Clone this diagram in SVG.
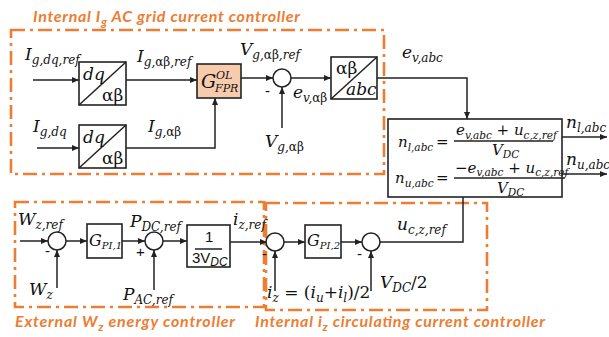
<svg xmlns="http://www.w3.org/2000/svg" width="609" height="337" viewBox="0 0 609 337">
<defs>
<marker id="ah" markerUnits="userSpaceOnUse" markerWidth="8" markerHeight="6" refX="7" refY="3" orient="auto">
<path d="M0,0 L7,3 L0,6 Z" fill="#222"/>
</marker>
<style>
.ln{fill:none;stroke:#222;stroke-width:1.5}
.ar{fill:none;stroke:#222;stroke-width:1.5;marker-end:url(#ah)}
.blk{fill:#fff;stroke:#222;stroke-width:1.6}
.gfb{fill:#F8CBAD;stroke:#222;stroke-width:1.6}
.sum{fill:#fff;stroke:#222;stroke-width:1.5}
.ob{fill:none;stroke:#ED7D31;stroke-width:2.6;stroke-dasharray:14 5 3 5}
.tt{font-family:Lato,"Open Sans",sans-serif;font-weight:bold;font-style:italic;font-size:16px;fill:#ED7D31}
.ts{font-size:12px}
.m{font-family:"DejaVu Serif",serif;font-style:italic;font-size:17px;fill:#111}
.mb{font-family:"DejaVu Serif",serif;font-style:italic;font-size:15px;fill:#111}
.s{font-size:12px}
.sb{font-size:10.5px}
.up{font-style:normal}
.sg{font-family:"Liberation Sans",sans-serif;font-size:15px;fill:#111}
</style>
</defs>

<g id="frames">
<rect id="frame-ig" class="ob" x="11" y="30" width="373" height="144"/>
<rect id="frame-wz" class="ob" x="15" y="202" width="249" height="105"/>
<rect id="frame-iz" class="ob" x="266" y="203" width="221" height="107"/>
<text class="tt" x="33" y="22" textLength="267">Internal I<tspan class="ts" dy="4">g</tspan><tspan dy="-4"> AC grid current controller</tspan></text>
<text class="tt" x="15" y="327" textLength="220">External W<tspan class="ts" dy="4">z</tspan><tspan dy="-4"> energy controller</tspan></text>
<text class="tt" x="255" y="327" textLength="290">Internal i<tspan class="ts" dy="4">z</tspan><tspan dy="-4"> circulating current controller</tspan></text>
</g>

<g id="connectors">
<line class="ar" x1="33" y1="80" x2="79" y2="80"/>
<line class="ar" x1="37" y1="148" x2="79" y2="148"/>
<line class="ar" x1="126" y1="80" x2="197" y2="80"/>
<polyline class="ar" points="126,148 215,148 215,98"/>
<line class="ar" x1="241" y1="78" x2="273" y2="78"/>
<line class="ar" x1="282" y1="128" x2="282" y2="87"/>
<line class="ar" x1="291" y1="78" x2="331" y2="78"/>
<polyline class="ar" points="377,78 467,78 467,119"/>
<line class="ar" x1="562" y1="137" x2="607" y2="137"/>
<line class="ar" x1="562" y1="174" x2="607" y2="174"/>
<line class="ar" x1="20" y1="241" x2="48" y2="241"/>
<line class="ar" x1="57" y1="288" x2="57" y2="250"/>
<line class="ar" x1="66" y1="241" x2="87" y2="241"/>
<line class="ar" x1="122" y1="241" x2="145" y2="241"/>
<line class="ar" x1="154" y1="290" x2="154" y2="250"/>
<line class="ar" x1="163" y1="241" x2="187" y2="241"/>
<line class="ar" x1="230" y1="242" x2="267" y2="242"/>
<line class="ar" x1="275" y1="291" x2="275" y2="251"/>
<line class="ar" x1="284" y1="242" x2="305" y2="242"/>
<line class="ar" x1="341" y1="242" x2="362" y2="242"/>
<line class="ar" x1="371" y1="291" x2="371" y2="251"/>
<polyline class="ln" points="380,242 463,242 463,197"/>
</g>

<g id="dq-ab-ref">
<rect class="blk" x="79" y="62" width="47" height="43"/>
<line class="ln" x1="79" y1="105" x2="126" y2="62"/>
<text class="m" x="83" y="80">dq</text>
<text class="m up" x="102" y="101">αβ</text>
</g>
<g id="dq-ab-meas">
<rect class="blk" x="79" y="125" width="47" height="43"/>
<line class="ln" x1="79" y1="168" x2="126" y2="125"/>
<text class="m" x="83" y="143">dq</text>
<text class="m up" x="102" y="164">αβ</text>
</g>
<g id="g-fpr">
<rect class="gfb" x="197" y="64" width="44" height="34"/>
<text class="m" x="201" y="88" style="font-size:19px">G</text>
<text class="m" x="216" y="79" style="font-size:11px">OL</text>
<text class="m" x="215" y="92" style="font-size:11px">FPR</text>
</g>
<g id="sum-v">
<circle class="sum" cx="282" cy="78" r="9"/>
<text class="sg" x="265" y="96">-</text>
</g>
<g id="ab-abc">
<rect class="blk" x="331" y="57" width="46" height="42"/>
<line class="ln" x1="331" y1="99" x2="377" y2="57"/>
<text class="m up" x="336" y="74">αβ</text>
<text class="m" x="346" y="95">abc</text>
</g>
<g id="modulation">
<rect class="blk" x="388" y="119" width="174" height="78"/>
<text class="mb" x="398" y="147">n<tspan class="sb" dy="4">l,abc</tspan></text>
<text class="mb up" x="436" y="147">=</text>
<text class="mb" x="456" y="135">e<tspan class="sb" dy="4">v,abc</tspan><tspan class="up" dy="-4"> + </tspan>u<tspan class="sb" dy="4">c,z,ref</tspan></text>
<line class="ln" x1="454" y1="141" x2="553" y2="141" stroke-width="1.2"/>
<text class="mb" x="492" y="155">V<tspan class="sb" dy="3">DC</tspan></text>
<text class="mb" x="395" y="183">n<tspan class="sb" dy="4">u,abc</tspan></text>
<text class="mb up" x="436" y="183">=</text>
<text class="mb" x="455" y="173"><tspan class="up">−</tspan>e<tspan class="sb" dy="3">v,abc</tspan><tspan class="up" dy="-3"> + </tspan>u<tspan class="sb" dy="3">c,z,ref</tspan></text>
<line class="ln" x1="454" y1="178" x2="565" y2="178" stroke-width="1.2"/>
<text class="mb" x="497" y="193">V<tspan class="sb" dy="3">DC</tspan></text>
</g>

<g id="sum-w">
<circle class="sum" cx="57" cy="241" r="9"/>
<text class="sg" x="45" y="256">-</text>
</g>
<g id="g-pi1">
<rect class="blk" x="87" y="224" width="35" height="34"/>
<text class="m" x="89" y="246" style="font-size:16px">G<tspan style="font-size:10px" dy="3">PI,1</tspan></text>
</g>
<g id="sum-p">
<circle class="sum" cx="154" cy="241" r="9"/>
<text class="sg" x="136" y="257">+</text>
</g>
<g id="inv-3vdc">
<rect class="blk" x="187" y="225" width="43" height="42"/>
<text class="sg" x="205" y="242">1</text>
<line class="ln" x1="195" y1="249" x2="222" y2="249" stroke-width="1.1"/>
<text class="sg" x="192" y="263">3V<tspan class="s" font-style="italic" dy="3">DC</tspan></text>
</g>
<g id="sum-iz">
<circle class="sum" cx="275" cy="242" r="9"/>
<text class="sg" x="262" y="259">-</text>
</g>
<g id="g-pi2">
<rect class="blk" x="305" y="225" width="36" height="33"/>
<text class="m" x="307" y="246" style="font-size:16px">G<tspan style="font-size:10px" dy="3">PI,2</tspan></text>
</g>
<g id="sum-u">
<circle class="sum" cx="371" cy="242" r="9"/>
<text class="sg" x="357" y="259">-</text>
</g>

<g id="labels">
<text class="m" x="25" y="60">I<tspan class="s" dy="4">g,dq,ref</tspan></text>
<text class="m" x="137" y="62">I<tspan class="s" dy="4">g,<tspan class="up">αβ</tspan>,ref</tspan></text>
<text class="m" x="240" y="55">V<tspan class="s" dy="4">g,<tspan class="up">αβ</tspan>,ref</tspan></text>
<text class="m" x="293" y="98">e<tspan class="s" dy="4">v,<tspan class="up">αβ</tspan></tspan></text>
<text class="m" x="265" y="147">V<tspan class="s" dy="4">g,<tspan class="up">αβ</tspan></tspan></text>
<text class="m" x="33" y="132">I<tspan class="s" dy="4">g,dq</tspan></text>
<text class="m" x="148" y="132">I<tspan class="s" dy="4">g,<tspan class="up">αβ</tspan></tspan></text>
<text class="m" x="402" y="58">e<tspan class="s" dy="4">v,abc</tspan></text>
<text class="m" x="566" y="128">n<tspan class="s" dy="4">l,abc</tspan></text>
<text class="m" x="566" y="165">n<tspan class="s" dy="4">u,abc</tspan></text>
<text class="m" x="18" y="225">W<tspan class="s" dy="4">z,ref</tspan></text>
<text class="m" x="29" y="295">W<tspan class="s" dy="4">z</tspan></text>
<text class="m" x="130" y="227">P<tspan class="s" dy="4">DC,ref</tspan></text>
<text class="m" x="123" y="300">P<tspan class="s" dy="4">AC,ref</tspan></text>
<text class="m" x="233" y="225">i<tspan class="s" dy="4">z,ref</tspan></text>
<text class="m" x="397" y="230">u<tspan class="s" dy="4">c,z,ref</tspan></text>
<text class="m" x="380" y="288">V<tspan class="s" dy="4">DC</tspan><tspan class="up" dy="-4">/2</tspan></text>
<text class="m" x="267" y="298">i<tspan class="s" dy="4">z</tspan><tspan class="up" dy="-4"> = (</tspan>i<tspan class="s" dy="4">u</tspan><tspan class="up" dy="-4">+</tspan>i<tspan class="s" dy="4">l</tspan><tspan class="up" dy="-4">)/2</tspan></text>
</g>
</svg>
